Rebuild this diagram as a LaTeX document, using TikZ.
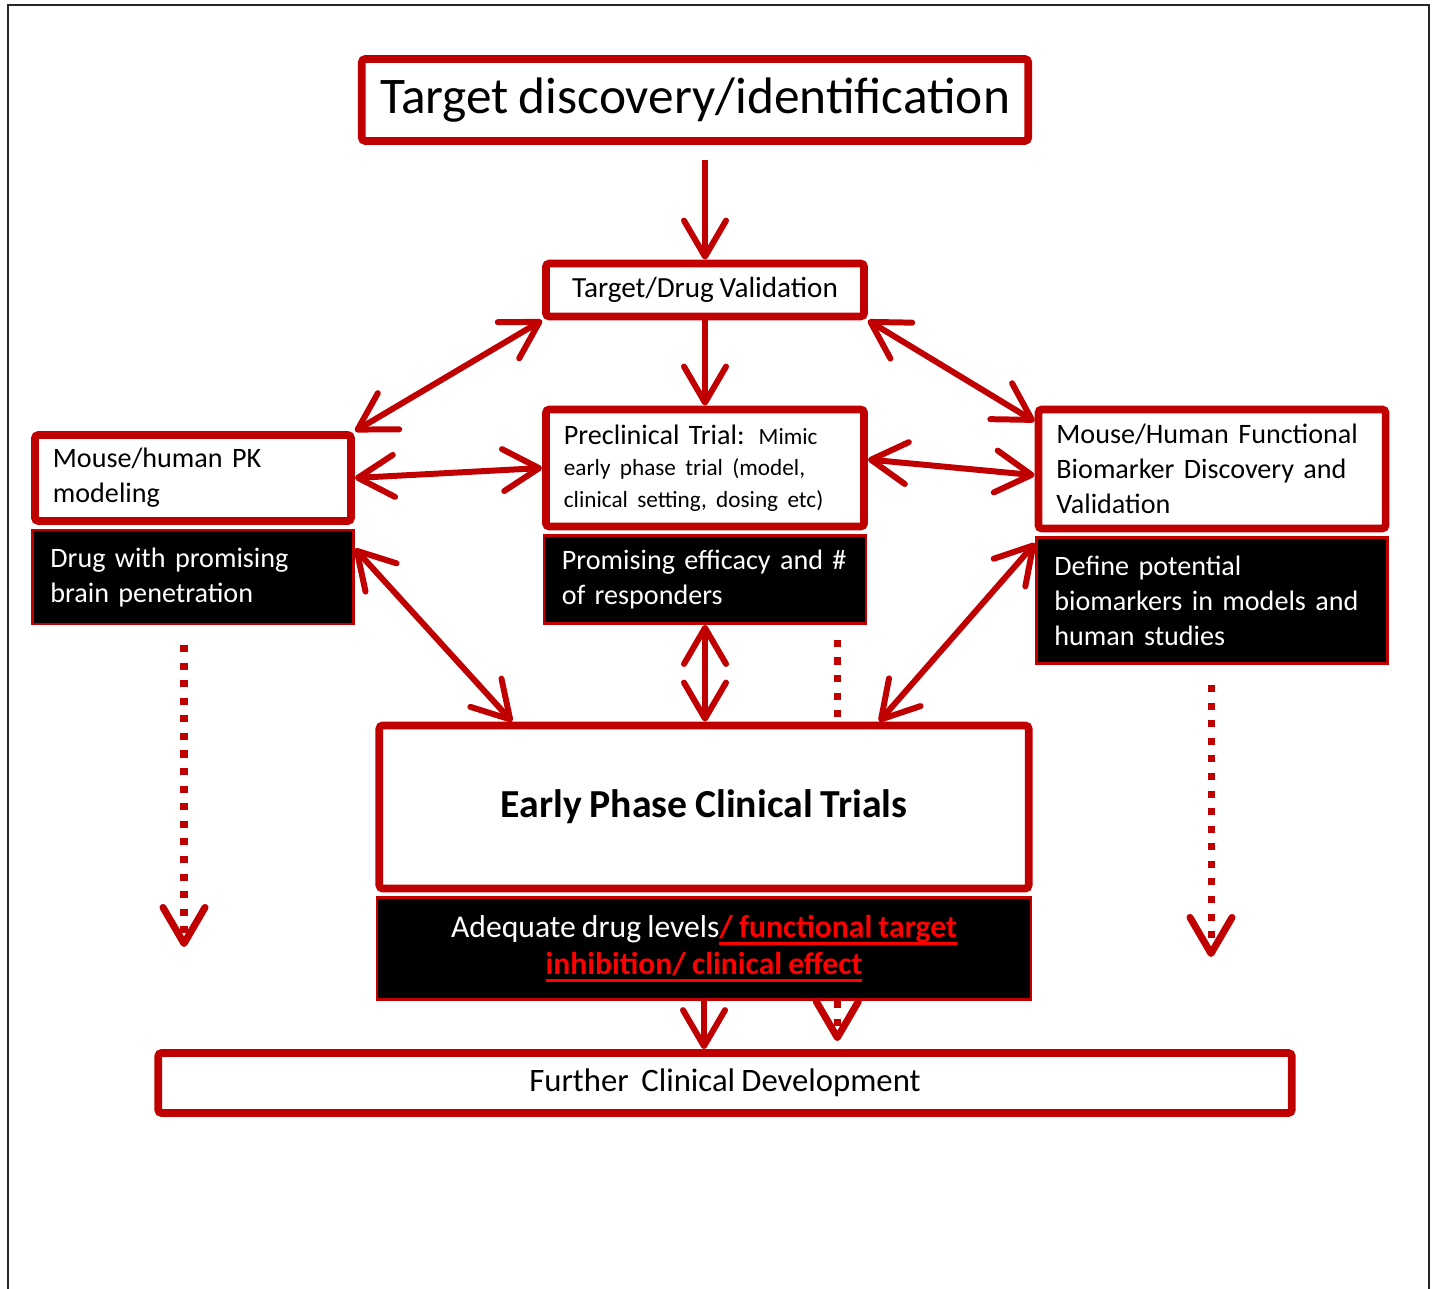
\documentclass[tikz,border=0pt]{standalone}
\usepackage{fontspec}
\setmainfont[WordSpace=0.85]{Carlito}
\newcommand{\thickul}[1]{\setbox0\hbox{#1}\rlap{\rule[-2.2pt]{\wd0}{0.9pt}}\box0}
\usetikzlibrary{arrows.meta,positioning,calc}
\definecolor{dred}{RGB}{192,0,0}
\definecolor{ured}{RGB}{255,0,0}
\begin{document}
\begin{tikzpicture}[x=0.01cm,y=-0.01cm,
  vtip/.tip={Straight Barb[length=3.6mm,width=4.2mm,round]},
  redbox/.style={draw=dred,line width=2.2pt,fill=white,rounded corners=1pt,inner xsep=0.18cm,inner ysep=0pt,align=left,font=\fontsize{8}{10}\selectfont},
  blackbox/.style={draw=dred,line width=0.7pt,fill=black,text=white,inner xsep=0.18cm,inner ysep=0pt,align=left,font=\fontsize{8}{10}\selectfont},
  arr/.style={draw=dred,line width=1.7pt,-vtip},
  darr/.style={draw=dred,line width=1.7pt,vtip-vtip},
  dotline/.style={draw=dred,line width=2pt,dash pattern=on 2pt off 3pt}]
\useasboundingbox (0,0) rectangle (1437,1289);
\draw[black!85,line width=0.6pt] (8,1289) -- (8,5) -- (1429,5) -- (1429,1289);

\node[redbox,align=center,minimum width=6.66cm,minimum height=0.82cm,font=\fontsize{14.6}{17}\selectfont] (target) at (695,100) {Target discovery/identification};
\node[redbox,align=center,minimum width=3.18cm,minimum height=0.53cm,font=\fontsize{8.3}{10}\selectfont] (tdv) at (705,290) {Target/Drug Validation};

\node[redbox,text width=2.80cm,minimum height=0.86cm] (leftw) at (193,478) {Mouse/human PK\\modeling};
\node[blackbox,text width=2.85cm,minimum height=0.94cm,below=0.04cm of leftw] (leftb) {Drug with promising\\brain penetration};

\node[redbox,text width=2.82cm,minimum height=1.17cm] (centw) at (705,468) {Preclinical Trial: {\fontsize{6.6}{8}\selectfont Mimic}\\[-1pt]{\fontsize{6.6}{8}\selectfont early phase trial (model,}\\[-1pt]{\fontsize{6.6}{8}\selectfont clinical setting, dosing etc)}};
\node[blackbox,text width=2.86cm,minimum height=0.88cm,below=0.04cm of centw] (centb) {Promising efficacy and \#\\of responders};

\node[redbox,text width=3.11cm,minimum height=1.19cm] (rightw) at (1212,469) {Mouse/Human Functional\\Biomarker Discovery and\\Validation};
\node[blackbox,text width=3.15cm,minimum height=1.26cm,below=0.04cm of rightw] (rightb) {Define potential\\biomarkers in models and\\human studies};

\node[redbox,align=center,minimum width=6.49cm,minimum height=1.63cm,font=\fontsize{11.3}{14}\selectfont\bfseries] (earlyw) at (704,807) {Early Phase Clinical Trials};
\node[blackbox,align=center,minimum width=6.54cm,minimum height=1.02cm,below=0.04cm of earlyw,font=\fontsize{9}{10.6}\selectfont] (earlyb) {Adequate drug levels\textcolor{ured}{\bfseries\thickul{/ functional target}}\\\textcolor{ured}{\bfseries\thickul{inhibition/ clinical effect}}};

\node[redbox,align=center,minimum width=11.33cm,minimum height=0.60cm,font=\fontsize{9.3}{11}\selectfont] (further) at (725,1083) {Further\ \ Clinical Development};

\coordinate (dtop) at ($(centb.south east)+(-30,15)$);
\coordinate (ltop) at (184,645);
\coordinate (lend) at (184,947);
\coordinate (rtop) at (1211,685);
\coordinate (rend) at (1211,957);

\draw[arr] ([yshift=-0.15cm]target.south -| tdv.north) -- (tdv.north);
\draw[arr] (tdv.south) -- (centw.north);
\draw[darr] (tdv.south west) -- (leftw.north east);
\draw[darr] (tdv.south east) -- (rightw.165);
\draw[darr] (leftw.east) -- (centw.west);
\draw[darr] (centw.3) -- (rightw.182);
\draw[darr] (leftb.10) -- (earlyw.156);
\draw[darr] (rightb.162) -- (earlyw.26);
\draw[darr] (centb.south) -- (centb.south |- earlyw.north);
\draw[dotline] (dtop) -- (dtop |- earlyw.north);
\draw[dotline,-vtip] (ltop) -- (lend);
\draw[dotline,-vtip] (rtop) -- (rend);
\draw[arr] (earlyb.south) -- (earlyb.south |- further.north);
\draw[dotline,-vtip] (dtop |- earlyb.south) -- ([yshift=0.08cm]dtop |- further.north);
\end{tikzpicture}
\end{document}
